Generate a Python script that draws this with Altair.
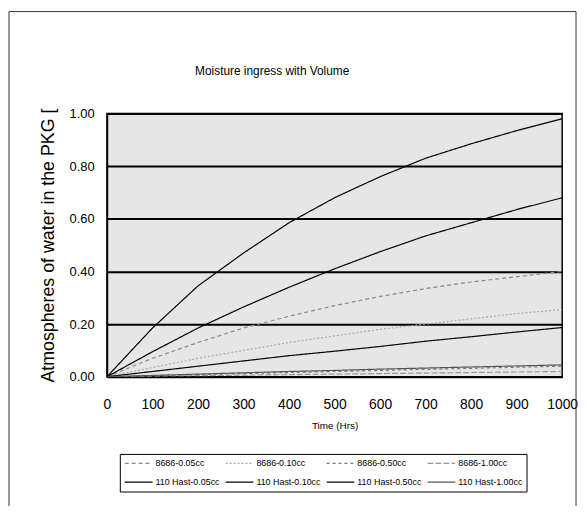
import altair as alt
import pandas as pd

# ---- data ----
time_hrs = [0, 100, 200, 300, 400, 500, 600, 700, 800, 900, 1000]

series_names = [
    "8686-0.05cc", "8686-0.10cc", "8686-0.50cc", "8686-1.00cc",
    "110 Hast-0.05cc", "110 Hast-0.10cc", "110 Hast-0.50cc", "110 Hast-1.00cc",
]

v_8686_005 = [0, 0.07, 0.13, 0.185, 0.23, 0.27, 0.305, 0.335, 0.36, 0.38, 0.40]
v_8686_010 = [0, 0.035, 0.07, 0.10, 0.13, 0.155, 0.18, 0.20, 0.22, 0.24, 0.255]
v_8686_050 = [0, 0.004, 0.008, 0.012, 0.016, 0.02, 0.024, 0.028, 0.032, 0.036, 0.04]
v_8686_100 = [0, 0.002, 0.004, 0.006, 0.008, 0.01, 0.012, 0.014, 0.016, 0.018, 0.02]
v_hast_005 = [0, 0.185, 0.345, 0.47, 0.585, 0.68, 0.76, 0.83, 0.885, 0.935, 0.98]
v_hast_010 = [0, 0.095, 0.185, 0.265, 0.34, 0.41, 0.475, 0.535, 0.585, 0.635, 0.68]
v_hast_050 = [0, 0.02, 0.04, 0.06, 0.08, 0.097, 0.115, 0.135, 0.152, 0.17, 0.187]
v_hast_100 = [0, 0.005, 0.01, 0.015, 0.02, 0.024, 0.029, 0.033, 0.037, 0.041, 0.045]

values = [v_8686_005, v_8686_010, v_8686_050, v_8686_100,
          v_hast_005, v_hast_010, v_hast_050, v_hast_100]

y_ticks = [0, 0.2, 0.4, 0.6, 0.8, 1.0]
x_ticks = [0, 100, 200, 300, 400, 500, 600, 700, 800, 900, 1000]

# ---- styles ----
colors = ["#8a8a8a", "#a8a8a8", "#7a7a7a", "#999999",
          "#000000", "#000000", "#000000", "#555555"]
dashes = [[4, 3], [2, 2], [3, 3], [6, 2], [1, 0], [1, 0], [1, 0], [1, 0]]
widths = [1.2, 1.2, 1.2, 1.2, 2.6, 2.6, 2.2, 1.6]

rows = []
for name, vals in zip(series_names, values):
    for t, v in zip(time_hrs, vals):
        rows.append({"series": name, "t": t, "v": v})
df = pd.DataFrame(rows)

FONT = "Liberation Sans"

lines = alt.Chart(df).mark_line(clip=True).encode(
    x=alt.X("t:Q", scale=alt.Scale(domain=[0, 1000], nice=False),
            axis=alt.Axis(title="Time (Hrs)", values=x_ticks, format="d",
                          grid=False, ticks=False, tickSize=0, labelPadding=21,
                          labelFontSize=14, labelColor="black", labelFont=FONT,
                          titleFontSize=10, titleFont=FONT, titleFontWeight="normal",
                          titleColor="black", titlePadding=9,
                          domainColor="black", domainWidth=1.5,
                          labelFlush=False)),
    y=alt.Y("v:Q", scale=alt.Scale(domain=[0, 1], nice=False),
            axis=alt.Axis(title="Atmospheres of water in the PKG [", values=y_ticks,
                          format=".2f", grid=True, gridColor="black", gridWidth=2,
                          ticks=False, tickSize=0, labelPadding=13,
                          labelFontSize=13, labelColor="black", labelFont=FONT,
                          titleFontSize=18, titleFont=FONT, titleFontWeight="normal",
                          titleColor="black", titlePadding=12,
                          domainColor="black", domainWidth=1.5)),
    color=alt.Color("series:N", sort=series_names,
                    scale=alt.Scale(domain=series_names, range=colors),
                    legend=alt.Legend(title=None, orient="none", legendX=13, legendY=344,
                                      direction="horizontal",
                                      columns=4, symbolType="stroke", symbolSize=784,
                                      clipHeight=11,
                                      labelFontSize=9, labelFont=FONT, labelColor="black",
                                      labelOffset=2,
                                      strokeColor="black", padding=4,
                                      rowPadding=8, columnPadding=5,
                                      fillColor="white", labelLimit=200)),
    strokeDash=alt.StrokeDash("series:N", sort=series_names,
                              scale=alt.Scale(domain=series_names, range=dashes),
                              legend=alt.Legend(title=None)),
    strokeWidth=alt.StrokeWidth("series:N", sort=series_names,
                                scale=alt.Scale(domain=series_names, range=widths),
                                legend=alt.Legend(title=None)),
    order=alt.Order("t:Q"),
)

frame = alt.Chart(pd.DataFrame({"k": [0]})).mark_rect(
    fill="transparent", stroke="#333333", strokeWidth=1
).encode(
    x=alt.value(-99), x2=alt.value(474), y=alt.value(-103), y2=alt.value(410)
)

chart = alt.layer(frame, lines).properties(
    width=460, height=266,
    title=alt.TitleParams("Moisture ingress with Volume", fontSize=12, font=FONT,
                          fontWeight="normal", color="black", anchor="middle",
                          frame="group", offset=-68, dx=-63),
    autosize=alt.AutoSizeParams(type="none"),
    padding={"left": 100, "top": 104, "right": 16, "bottom": 128},
).configure(
    background="white",
    view=alt.ViewConfig(fill="#e6e6e6", stroke="black", strokeWidth=1.5),
)

chart.save("out.html", embed_options={"renderer": "svg", "actions": False})
